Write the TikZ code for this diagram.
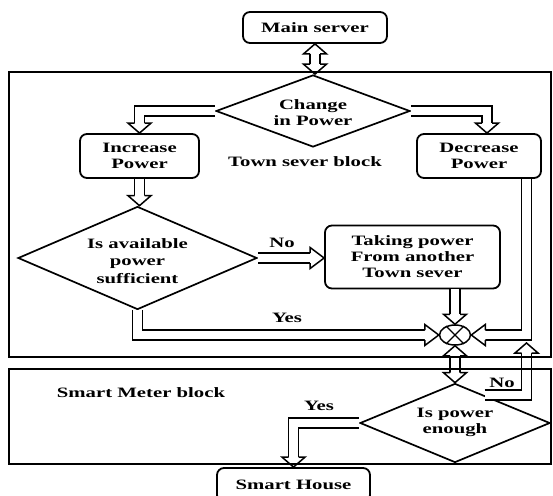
\documentclass[tikz,border=0pt]{standalone}
\usepackage{fontspec}
\setmainfont{Liberation Serif}[FakeStretch=1.45]
\usetikzlibrary{shapes.geometric,calc}
\newcommand\lblfont{\fontsize{14.3}{16}\selectfont\bfseries}
\tikzset{
  box/.style={draw, line width=1.8pt, rounded corners=7pt, inner sep=0pt, align=center, font=\lblfont},
  dia/.style={draw, diamond, line width=1.7pt, inner sep=0pt},
  blk/.style={draw, line width=1.8pt, inner sep=0pt},
  txt/.style={inner sep=0pt, align=center, font=\lblfont},
  shaft/.style={draw=black, double=white, line width=1.5pt, double distance=8.5pt, line join=miter},
  headst/.style={fill=white, draw=black, line width=1.5pt, line join=miter},
  hdown/.pic={\filldraw[headst] (-5,-10) -- (-11.5,-10) -- (0,0) -- (11.5,-10) -- (5,-10);},
  hup/.pic={\filldraw[headst] (-5,10) -- (-11.5,10) -- (0,0) -- (11.5,10) -- (5,10);},
  hleft/.pic={\filldraw[headst] (14,-5) -- (14,-10.5) -- (0,0) -- (14,10.5) -- (14,5);},
  hright/.pic={\filldraw[headst] (-14,-5) -- (-14,-10.5) -- (0,0) -- (-14,10.5) -- (-14,5);}
}
\begin{document}
\begin{tikzpicture}[x=1pt,y=-1pt]
\useasboundingbox[fill=white] (0,0) rectangle (553,495);
% nodes
\node[box, minimum width=144pt, minimum height=31pt] (main) at (315,27.5) {Main server};
\node[dia, minimum width=194pt, minimum height=72pt] (cp) at (313,111) {};
\node[txt] (cpt) at (313,113) {Change\\in Power};
\node[box, minimum width=119pt, minimum height=44pt] (inc) at (139.5,156) {Increase\\Power};
\node[box, minimum width=124pt, minimum height=44pt] (dec) at (479,156) {Decrease\\Power};
\node[txt] (townlbl) at (305,162) {Town sever block};
\node[dia, minimum width=239pt, minimum height=103pt] (av) at (137.5,258) {};
\node[txt, font=\fontsize{14.3}{17.5}\selectfont\bfseries] (avt) at (137.5,261) {Is available\\power\\sufficient};
\node[box, minimum width=175pt, minimum height=63pt] (take) at (412.5,257) {Taking power\\From another\\Town sever};
\node[draw, ellipse, line width=1.5pt, minimum width=31pt, minimum height=20pt, inner sep=0pt] (x) at (455,335) {};
\draw[line width=1.3pt] (x.45) -- (x.225) (x.135) -- (x.315);
\node[dia, minimum width=190pt, minimum height=79pt] (pe) at (455,423) {};
\node[txt] (pet) at (455,422) {Is power\\enough};
\node[box, minimum width=153pt, minimum height=34pt] (house) at (293.5,485) {Smart House};
\node[txt] (smlbl) at (141,393) {Smart Meter block};
\node[txt] (no1) at (282,243) {No};
\node[txt] (yes1) at (287,318) {Yes};
\node[txt] (yes2) at (319,406) {Yes};
\node[txt] (no2) at (502,383) {No};
% helper coordinates
\coordinate (lane) at (526.5,0);
\coordinate (notip) at (526.5,343);
\coordinate (noout) at ($(pe.north)!0.31!(pe.east)$);
\coordinate (decin) at ($(dec.north)+(8,0)$);
% connectors
\draw[shaft, shorten <=10pt, shorten >=10pt] (main.south) -- (main.south |- cp.north);
\pic at (main.south) {hup};
\pic at (main.south |- cp.north) {hdown};
\draw[shaft, shorten >=10pt] (cp.west) -| (inc.north);
\pic at (inc.north) {hdown};
\draw[shaft, shorten >=10pt] (cp.east) -| (decin);
\pic at (decin) {hdown};
\draw[shaft, shorten >=10pt] (inc.south) -- (inc.south |- av.north);
\pic at (inc.south |- av.north) {hdown};
\draw[shaft, shorten >=14pt] (av.east) -- (av.east -| take.west);
\pic at (av.east -| take.west) {hright};
\draw[shaft, shorten >=10pt] (take.south -| x.north) -- (x.north);
\pic at (x.north) {hdown};
\draw[shaft, shorten >=14pt] (av.south) |- (x.west);
\pic at (x.west) {hright};
\draw[shaft, shorten >=14pt] (dec.south -| lane) |- (x.east);
\pic at (x.east) {hleft};
\draw[shaft, shorten <=10pt, shorten >=10pt] (x.south) -- (pe.north);
\pic at (x.south) {hup};
\pic at (pe.north) {hdown};
\draw[shaft, shorten >=10pt] (noout) -| (notip);
\pic at (notip) {hup};
\draw[shaft, shorten >=10pt] (pe.west) -| (house.north);
\pic at (house.north) {hdown};
% block frames
\node[blk, minimum width=542pt, minimum height=285pt] (town) at (280,214.5) {};
\node[blk, minimum width=542pt, minimum height=95pt] (smart) at (280,416.5) {};
\end{tikzpicture}
\end{document}
